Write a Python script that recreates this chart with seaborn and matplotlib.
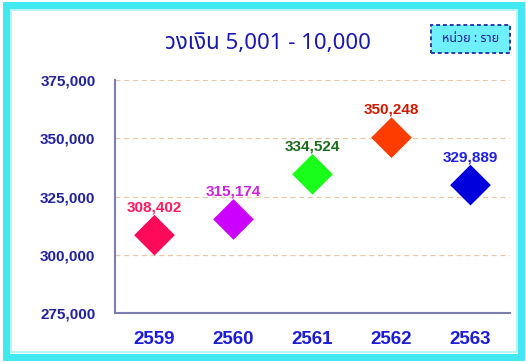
import matplotlib
matplotlib.use("Agg")
import matplotlib.pyplot as plt
from matplotlib.patches import Rectangle
import seaborn as sns
import pandas as pd

years = ["2559", "2560", "2561", "2562", "2563"]
values = [308402, 315174, 334524, 350248, 329889]
marker_colors = ["#ff0a5a", "#cc00ff", "#19ff19", "#ff3c00", "#0000dd"]
label_colors = ["#ff1a5e", "#cc22dd", "#1b6b1b", "#cc1a00", "#1f1fe0"]
y_ticks = [275000, 300000, 325000, 350000, 375000]
title = "วงเงิน 5,001 - 10,000"
unit_text = "หน่วย : ราย"

sns.set_theme(style="white")
thai_fonts = ["Noto Sans Thai", "Loma", "Garuda", "Tlwg Typo", "Noto Sans", "DejaVu Sans"]
num_fonts = ["Liberation Sans", "DejaVu Sans"]
plt.rcParams["font.family"] = thai_fonts

df = pd.DataFrame({"year": years, "value": values})

fig = plt.figure(figsize=(5.26, 3.62), dpi=100)
ax = fig.add_axes([115 / 526, 1 - 313 / 362, (510 - 115) / 526, (313 - 80) / 362])

sns.scatterplot(data=df, x="year", y="value", hue="year", palette=marker_colors,
                marker="D", s=430, edgecolor="none", legend=False, ax=ax, zorder=3)

ax.set_xlim(-0.5, len(years) - 0.5)
ax.set_ylim(y_ticks[0], y_ticks[-1])
ax.set_xticks(range(len(years)))
ax.set_xticklabels(years, family=num_fonts, fontweight="bold", fontsize=13.5,
                   color="#1c1cd8")
ax.set_yticks(y_ticks)
ax.set_yticklabels([f"{v:,}" for v in y_ticks], family=num_fonts,
                   fontweight="bold", fontsize=11, color="#22229c")
ax.yaxis.grid(True, linestyle=(0, (4, 3)), color="#e8c8a8", linewidth=0.9)
ax.set_axisbelow(True)
ax.set_xlabel("")
ax.set_ylabel("")
for side in ("top", "right"):
    ax.spines[side].set_visible(False)
for side in ("left", "bottom"):
    ax.spines[side].set_color("#7a7fb0")
    ax.spines[side].set_linewidth(1.5)
ax.tick_params(axis="y", length=0, pad=14)
ax.tick_params(axis="x", length=0, pad=13)

for i, (v, c) in enumerate(zip(values, label_colors)):
    ax.annotate(f"{v:,}", (i, v), xytext=(0, 15), textcoords="offset points",
                ha="center", va="bottom", color=c, fontsize=11,
                fontweight="bold", family=num_fonts)

# outer frame
fig.patches.append(Rectangle((6 / 526, 5 / 362), 515 / 526, 352 / 362,
                             transform=fig.transFigure, facecolor="none",
                             edgecolor="#40e8f0", linewidth=5, zorder=0))
fig.patches.append(Rectangle((11 / 526, 10 / 362), 506 / 526, 342 / 362,
                             transform=fig.transFigure, facecolor="none",
                             edgecolor="#a8f4f8", linewidth=1.2, zorder=0))

fig.text(268 / 526, 1 - 43 / 362, title, ha="center", va="center",
         fontsize=16, color="#1818b0", fontweight="bold")

fig.patches.append(Rectangle((431 / 526, 1 - 53 / 362), 79 / 526, 28 / 362,
                             transform=fig.transFigure, facecolor="#6ff0ff",
                             edgecolor="#2a3aa8", linewidth=1.4,
                             linestyle=(0, (2, 1.5)), zorder=1))
fig.text(470.5 / 526, 1 - 39 / 362, unit_text, ha="center", va="center",
         fontsize=9, color="#1c1ca8", fontweight="bold", zorder=2)

fig.savefig("out.png", dpi=100)
